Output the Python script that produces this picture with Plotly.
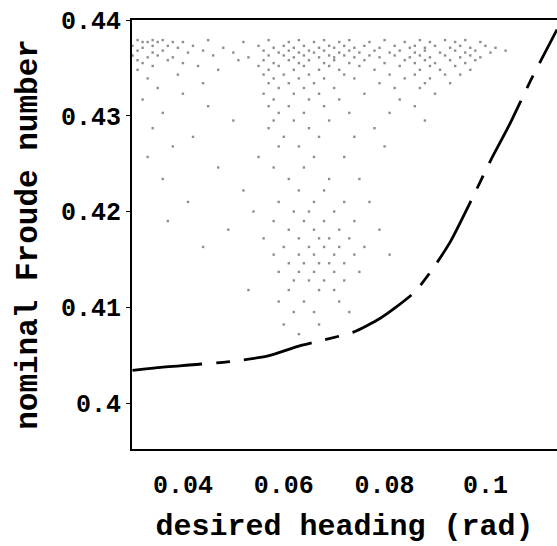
import plotly.graph_objects as go

# Boundary curve (dashed)
curve_x = [0.0300, 0.0349, 0.0420, 0.0488, 0.0567, 0.0633, 0.0680, 0.0738, 0.0790, 0.0820,
           0.0860, 0.0894, 0.0930, 0.0975, 0.1010, 0.1049, 0.1088, 0.1142]
curve_y = [0.4034, 0.4037, 0.4040, 0.4043, 0.4049, 0.4060, 0.4066, 0.4074, 0.4088, 0.4099,
           0.4116, 0.4139, 0.4168, 0.4215, 0.4253, 0.4292, 0.4335, 0.4390]

# Grey stipple cloud: rows of (y level, x positions)
cloud_rows = {
    0.4379: [0.031, 0.034, 0.036, 0.045, 0.057, 0.063, 0.068, 0.073, 0.080, 0.087, 0.092, 0.096],
    0.4377: [0.032, 0.033, 0.035, 0.038, 0.040, 0.052, 0.061, 0.066, 0.071, 0.077, 0.084, 0.089,
             0.094, 0.099],
    0.4373: [0.030, 0.034, 0.037, 0.042, 0.055, 0.060, 0.064, 0.069, 0.072, 0.076, 0.082, 0.086,
             0.090, 0.095, 0.100],
    0.4371: [0.032, 0.039, 0.048, 0.058, 0.062, 0.067, 0.070, 0.074, 0.079, 0.085, 0.088, 0.093,
             0.097, 0.102],
    0.4368: [0.031, 0.036, 0.044, 0.056, 0.061, 0.065, 0.068, 0.073, 0.078, 0.083, 0.088, 0.094,
             0.098, 0.104],
    0.4366: [0.034, 0.041, 0.050, 0.059, 0.063, 0.066, 0.071, 0.075, 0.081, 0.086, 0.091, 0.096,
             0.101],
    0.4363: [0.030, 0.035, 0.046, 0.057, 0.060, 0.064, 0.069, 0.072, 0.077, 0.082, 0.087, 0.092,
             0.097],
    0.4361: [0.033, 0.038, 0.053, 0.062, 0.067, 0.070, 0.074, 0.079, 0.085, 0.089, 0.095, 0.099],
    0.4358: [0.031, 0.037, 0.051, 0.056, 0.061, 0.065, 0.070, 0.076, 0.084, 0.088, 0.093, 0.098],
    0.4355: [0.032, 0.040, 0.058, 0.063, 0.068, 0.073, 0.080, 0.086, 0.090, 0.096],
    0.4352: [0.034, 0.043, 0.055, 0.059, 0.064, 0.069, 0.075, 0.083, 0.089, 0.094],
    0.4348: [0.031, 0.047, 0.057, 0.062, 0.067, 0.071, 0.078, 0.087, 0.091, 0.097],
    0.4343: [0.039, 0.056, 0.060, 0.065, 0.072, 0.081, 0.086, 0.092, 0.095],
    0.4339: [0.033, 0.058, 0.063, 0.068, 0.074, 0.084, 0.089],
    0.4334: [0.044, 0.057, 0.061, 0.066, 0.079, 0.088, 0.093],
    0.4329: [0.035, 0.059, 0.064, 0.070, 0.082, 0.087],
    0.4323: [0.040, 0.056, 0.062, 0.067, 0.076, 0.090],
    0.4317: [0.032, 0.058, 0.065, 0.071, 0.083],
    0.4310: [0.045, 0.057, 0.061, 0.068, 0.086],
    0.4303: [0.036, 0.059, 0.064, 0.073, 0.081],
    0.4295: [0.050, 0.058, 0.062, 0.069, 0.088],
    0.4287: [0.034, 0.057, 0.065, 0.078],
    0.4278: [0.042, 0.060, 0.067, 0.074],
    0.4268: [0.038, 0.059, 0.063, 0.080],
    0.4257: [0.033, 0.055, 0.066, 0.072],
    0.4246: [0.047, 0.058, 0.064],
    0.4234: [0.036, 0.061, 0.069, 0.075],
    0.4222: [0.052, 0.063, 0.068],
    0.4210: [0.041, 0.059, 0.066, 0.072, 0.077],
    0.4200: [0.054, 0.062, 0.065, 0.070],
    0.4190: [0.037, 0.058, 0.064, 0.068, 0.074],
    0.4181: [0.049, 0.061, 0.066, 0.071, 0.079],
    0.4172: [0.056, 0.063, 0.067, 0.069, 0.073],
    0.4163: [0.044, 0.060, 0.065, 0.068, 0.071, 0.076],
    0.4155: [0.058, 0.063, 0.066, 0.070, 0.074, 0.081],
    0.4146: [0.061, 0.064, 0.067, 0.069, 0.072],
    0.4137: [0.059, 0.063, 0.066, 0.070, 0.075],
    0.4128: [0.062, 0.065, 0.068, 0.072],
    0.4118: [0.053, 0.061, 0.067, 0.070],
    0.4106: [0.059, 0.064, 0.071],
    0.4095: [0.062, 0.066, 0.073],
    0.4082: [0.060, 0.067],
    0.4072: [0.063],
}

cloud_x = []
cloud_y = []
for yv, xs in cloud_rows.items():
    for xv in xs:
        cloud_x.append(xv)
        cloud_y.append(yv)

x_ticks = [0.04, 0.06, 0.08, 0.1]
x_tick_text = ["0.04", "0.06", "0.08", "0.1"]
y_ticks = [0.40, 0.41, 0.42, 0.43, 0.44]
y_tick_text = ["0.4", "0.41", "0.42", "0.43", "0.44"]

FONT = "Liberation Mono"

fig = go.Figure()
fig.add_trace(go.Scatter(
    x=cloud_x, y=cloud_y, mode="markers",
    marker=dict(symbol="square", size=2.4, color="rgba(50,50,50,0.55)", line=dict(width=0)),
    hoverinfo="skip", showlegend=False,
))
fig.add_trace(go.Scatter(
    x=curve_x, y=curve_y, mode="lines",
    line=dict(color="black", width=2.8, shape="spline", smoothing=0.6, dash="70px,14px,14px,14px"),
    showlegend=False,
))

fig.update_layout(
    width=557, height=546,
    margin=dict(l=132, r=0, t=20, b=97),
    paper_bgcolor="white", plot_bgcolor="white",
    font=dict(family=FONT, color="black"),
)
fig.update_xaxes(
    range=[0.0299, 0.1142], tickvals=x_ticks, ticktext=x_tick_text,
    showgrid=False, zeroline=False, automargin=False,
    showline=True, linecolor="black", linewidth=2, mirror=True,
    ticks="", ticklabelstandoff=12,
    tickfont=dict(family=FONT, size=25, weight="bold"),
    title=dict(text="desired heading (rad)", font=dict(family=FONT, size=30, weight="bold"), standoff=14),
)
fig.update_yaxes(
    range=[0.3952, 0.44], tickvals=y_ticks, ticktext=y_tick_text,
    showgrid=False, zeroline=False, automargin=False,
    showline=True, linecolor="black", linewidth=2,
    ticks="outside", ticklen=4, tickcolor="black",
    tickfont=dict(family=FONT, size=25, weight="bold"),
    title=dict(text="nominal Froude number", font=dict(family=FONT, size=31, weight="bold"), standoff=14),
)

fig.write_html("out.html", config={"displayModeBar": False},
               post_script="document.body.style.margin='0';document.body.style.overflow='hidden';")
